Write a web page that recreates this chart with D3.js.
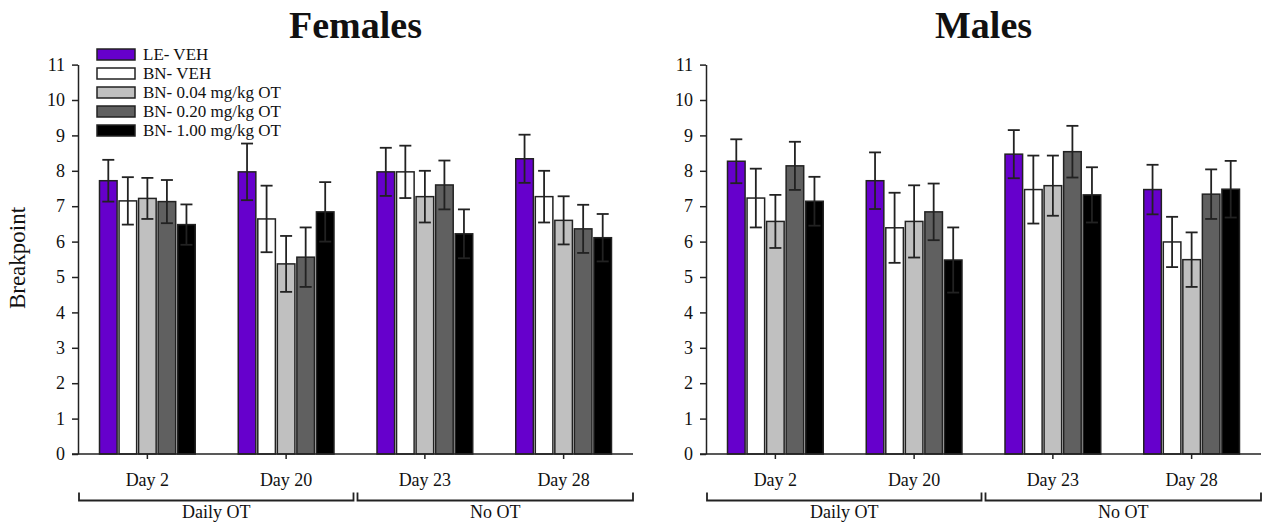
<!DOCTYPE html>
<html><head><meta charset="utf-8">
<script src="https://cdn.jsdelivr.net/npm/d3@7/dist/d3.min.js"></script>
<style>
body{margin:0;background:#fff;}
text{font-family:"Liberation Serif","Times New Roman",serif;fill:#111;}
</style></head>
<body><svg id="c" width="1270" height="527"></svg>
<script>
const days = ["Day 2","Day 20","Day 23","Day 28"];
const groups = ["LE- VEH","BN- VEH","BN- 0.04 mg/kg OT","BN- 0.20 mg/kg OT","BN- 1.00 mg/kg OT"];
const colors = ["#6600cc","#ffffff","#c0c0c0","#606060","#000000"];
const yTicks = [0,1,2,3,4,5,6,7,8,9,10,11];
const phases = ["Daily OT","No OT"];
// rows = days, columns = groups
const femalesMean = [
  [7.72,7.15,7.22,7.13,6.48],
  [7.97,6.64,5.37,5.56,6.84],
  [7.97,7.97,7.27,7.60,6.22],
  [8.34,7.27,6.60,6.36,6.11]
];
const femalesSem = [
  [0.59,0.67,0.58,0.61,0.57],
  [0.80,0.94,0.79,0.84,0.84],
  [0.68,0.74,0.73,0.69,0.69],
  [0.68,0.73,0.68,0.68,0.67]
];
const malesMean = [
  [8.27,7.23,6.57,8.14,7.14],
  [7.72,6.39,6.57,6.84,5.48],
  [8.47,7.47,7.58,8.54,7.32],
  [7.47,5.99,5.49,7.34,7.48]
];
const malesSem = [
  [0.62,0.83,0.75,0.68,0.69],
  [0.80,0.99,1.02,0.80,0.92],
  [0.68,0.96,0.85,0.73,0.78],
  [0.70,0.71,0.77,0.70,0.80]
];

const svg = d3.select("#c");
const axisColor = "#222";

function panel(x0px, title, means, sems, showLegend, showYLabel){
  const W = 555;
  const x0 = d3.scaleBand().domain(days).range([x0px, x0px+W]).paddingInner(0.31).paddingOuter(0.155);
  const x1 = d3.scaleBand().domain(groups).range([0, x0.bandwidth()]).paddingInner(0.1);
  const y = d3.scaleLinear().domain([0,11]).range([454, 64.6]);
  const g = svg.append("g");

  // bars
  days.forEach((d,i)=>{
    const gg = g.append("g").attr("transform",`translate(${x0(d)},0)`);
    gg.selectAll("rect").data(groups).join("rect")
      .attr("x",k=>x1(k)).attr("width",x1.bandwidth())
      .attr("y",(k,j)=>y(means[i][j])).attr("height",(k,j)=>y(0)-y(means[i][j]))
      .attr("fill",(k,j)=>colors[j]).attr("stroke","#222").attr("stroke-width",1.5);
    groups.forEach((k,j)=>{
      const cx = x1(k)+x1.bandwidth()/2;
      const hi = y(means[i][j]+sems[i][j]), lo = y(means[i][j]-sems[i][j]);
      gg.append("line").attr("x1",cx).attr("x2",cx).attr("y1",hi).attr("y2",lo).attr("stroke","#222").attr("stroke-width",1.8);
      [hi,lo].forEach(v=>gg.append("line").attr("x1",cx-6).attr("x2",cx+6).attr("y1",v).attr("y2",v).attr("stroke","#222").attr("stroke-width",1.8));
    });
  });

  // y axis
  const ya = g.append("g").attr("transform",`translate(${x0px},0)`)
    .call(d3.axisLeft(y).tickValues(yTicks).tickFormat(d3.format("d")).tickSize(6).tickSizeOuter(0).tickPadding(7));
  ya.selectAll("text").style("font-size","18px").attr("fill","#111");
  ya.selectAll("line,path").attr("stroke",axisColor).attr("stroke-width",1.5);

  // x axis
  const xa = g.append("g").attr("transform","translate(0,454)")
    .call(d3.axisBottom(x0).tickSize(5).tickSizeOuter(0).tickPadding(14));
  xa.select("path").attr("d",`M${x0px-6},0H${x0px+W}`);
  xa.selectAll("text").style("font-size","18px").attr("fill","#111");
  xa.selectAll("line,path").attr("stroke",axisColor).attr("stroke-width",1.5);

  // brackets
  const mid = x0px + W/2;
  const spans = [[x0px+1, mid-2],[mid+2, x0px+W]];
  spans.forEach((s,i)=>{
    g.append("path").attr("d",`M${s[0]},492.5V500.5H${s[1]}V492.5`).attr("fill","none").attr("stroke",axisColor).attr("stroke-width",1.8);
    g.append("text").attr("x",(s[0]+s[1])/2).attr("y",518).attr("text-anchor","middle").style("font-size","18px").text(phases[i]);
  });

  // title
  g.append("text").attr("x",mid).attr("y",38).attr("text-anchor","middle")
    .style("font-size","38px").style("font-weight","bold").attr("fill","#000").text(title);

  if(showYLabel){
    g.append("text").attr("transform","translate(25,258) rotate(-90)").attr("text-anchor","middle")
      .style("font-size","23px").text("Breakpoint");
  }
  if(showLegend){
    const lg = g.append("g").attr("transform","translate(97,49)");
    groups.forEach((k,j)=>{
      lg.append("rect").attr("x",0).attr("y",j*19).attr("width",38).attr("height",11)
        .attr("fill",colors[j]).attr("stroke","#222").attr("stroke-width",1.5);
      lg.append("text").attr("x",46).attr("y",j*19+11).style("font-size","17px").text(k);
    });
  }
}

panel(78, "Females", femalesMean, femalesSem, true, true);
panel(706, "Males", malesMean, malesSem, false, false);
</script>
</body></html>
